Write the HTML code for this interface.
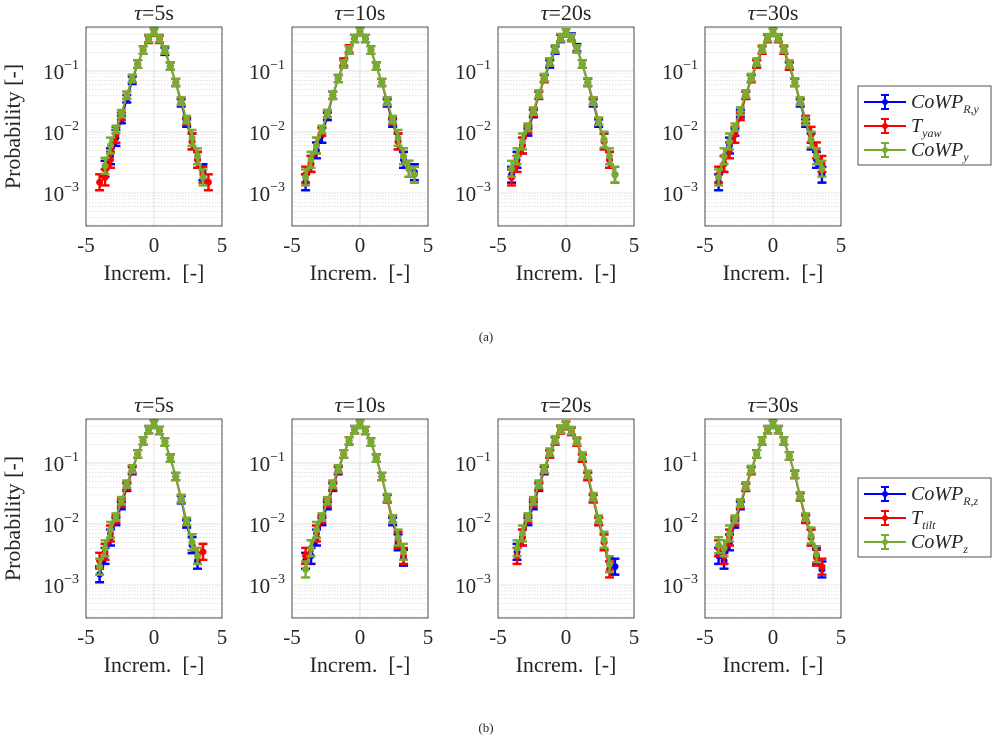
<!DOCTYPE html>
<html><head><meta charset="utf-8">
<style>
body{margin:0;background:#fff;width:1004px;height:737px;overflow:hidden}
svg{display:block}
text{font-family:"Liberation Serif","DejaVu Serif",serif;fill:#262626}
</style></head>
<body>
<svg id="chart" width="1004" height="737" viewBox="0 0 1004 737" xmlns="http://www.w3.org/2000/svg"></svg>
<script>
const xBins=[-4.0,-3.6,-3.2,-2.8,-2.4,-2.0,-1.6,-1.2,-0.8,-0.4,0,0.4,0.8,1.2,1.6,2.0,2.4,2.8,3.2,3.6,4.0];
const panelTitles=["5s","10s","20s","30s"];
const xTicks=[-5,0,5];
const yTickExps=[-1,-2,-3];
// row a (yaw)
const a5Blue=[null,0.0025,0.004,0.008,0.016,0.035,0.07,0.13,0.22,0.34,0.44,0.34,0.21,0.12,0.065,0.03,0.014,0.007,0.0035,0.0022,null];
const a5Red=[0.0015,0.0018,0.0035,0.009,0.018,0.04,0.075,0.13,0.22,0.33,0.43,0.33,0.22,0.12,0.065,0.032,0.015,0.007,0.0035,0.002,0.0015];
const a5Green=[null,0.0028,0.006,0.011,0.02,0.04,0.075,0.13,0.22,0.34,0.44,0.34,0.22,0.12,0.065,0.032,0.016,0.008,0.004,0.0018,null];
const a10Blue=[0.0015,0.003,0.005,0.009,0.018,0.04,0.075,0.13,0.22,0.34,0.44,0.34,0.22,0.12,0.065,0.03,0.014,0.007,0.0035,0.0025,0.0022];
const a10Red=[0.002,0.003,0.006,0.01,0.02,0.04,0.075,0.14,0.23,0.34,0.44,0.34,0.22,0.12,0.065,0.032,0.015,0.007,0.004,0.0025,0.002];
const a10Green=[0.0018,0.0035,0.006,0.011,0.02,0.04,0.075,0.13,0.22,0.34,0.44,0.34,0.22,0.12,0.065,0.032,0.016,0.008,0.004,0.0025,0.002];
const a20Blue=[0.002,0.0035,0.006,0.01,0.02,0.04,0.075,0.13,0.22,0.34,0.42,0.36,0.24,0.13,0.065,0.03,0.014,0.007,0.0035,0.002,null];
const a20Red=[0.0018,0.003,0.006,0.011,0.021,0.04,0.075,0.14,0.23,0.35,0.42,0.35,0.23,0.13,0.065,0.032,0.015,0.007,0.0035,0.002,null];
const a20Green=[0.0025,0.004,0.007,0.012,0.022,0.042,0.078,0.14,0.23,0.35,0.42,0.35,0.23,0.13,0.066,0.032,0.015,0.0075,0.004,0.002,null];
const a30Blue=[0.0015,0.003,0.006,0.01,0.02,0.04,0.075,0.13,0.22,0.34,0.43,0.34,0.22,0.12,0.065,0.03,0.014,0.007,0.0035,0.002,null];
const a30Red=[0.002,0.003,0.005,0.009,0.018,0.04,0.075,0.13,0.22,0.34,0.43,0.34,0.22,0.12,0.065,0.032,0.016,0.009,0.005,0.003,null];
const a30Green=[0.0018,0.004,0.007,0.012,0.022,0.042,0.078,0.14,0.23,0.35,0.43,0.35,0.23,0.13,0.066,0.032,0.015,0.0075,0.004,0.0025,null];
// row b (tilt)
const b5Blue=[0.0015,0.003,0.006,0.011,0.02,0.04,0.075,0.14,0.23,0.35,0.43,0.34,0.22,0.12,0.06,0.025,0.01,0.0045,0.0025,null,null];
const b5Red=[0.0025,0.0035,0.007,0.012,0.022,0.042,0.078,0.14,0.23,0.35,0.43,0.34,0.22,0.12,0.06,0.026,0.011,0.005,0.003,0.0035,null];
const b5Green=[0.002,0.004,0.008,0.013,0.024,0.045,0.08,0.14,0.23,0.35,0.43,0.34,0.22,0.12,0.06,0.026,0.011,0.005,0.003,null,null];
const b10Blue=[0.0025,0.003,0.006,0.011,0.02,0.04,0.075,0.14,0.23,0.35,0.43,0.34,0.22,0.12,0.06,0.026,0.011,0.005,0.0028,null,null];
const b10Red=[0.003,0.004,0.007,0.012,0.022,0.042,0.078,0.14,0.23,0.35,0.43,0.34,0.22,0.12,0.06,0.026,0.012,0.0055,0.003,null,null];
const b10Green=[0.0018,0.004,0.008,0.013,0.024,0.045,0.08,0.14,0.23,0.35,0.43,0.34,0.22,0.12,0.06,0.027,0.012,0.006,0.0035,null,null];
const b20Blue=[null,0.0035,0.006,0.011,0.02,0.04,0.075,0.14,0.23,0.35,0.41,0.33,0.22,0.12,0.06,0.026,0.011,0.005,0.0022,0.002,null];
const b20Red=[null,0.003,0.006,0.012,0.022,0.042,0.078,0.14,0.23,0.35,0.41,0.33,0.22,0.12,0.06,0.026,0.011,0.005,0.0018,null,null];
const b20Green=[null,0.004,0.007,0.013,0.024,0.045,0.08,0.15,0.24,0.36,0.42,0.34,0.23,0.13,0.065,0.028,0.012,0.0055,0.0022,null,null];
const b30Blue=[0.003,0.0025,0.005,0.01,0.02,0.04,0.075,0.14,0.23,0.35,0.43,0.35,0.23,0.13,0.065,0.028,0.012,0.006,0.003,0.0018,null];
const b30Red=[0.004,0.003,0.006,0.011,0.021,0.04,0.075,0.14,0.23,0.35,0.43,0.35,0.23,0.13,0.065,0.028,0.012,0.006,0.0028,0.002,null];
const b30Green=[0.0045,0.004,0.007,0.012,0.022,0.042,0.078,0.14,0.23,0.35,0.43,0.35,0.23,0.13,0.066,0.029,0.013,0.0065,0.0032,null,null];

const rowA=[[a5Blue,a5Red,a5Green],[a10Blue,a10Red,a10Green],[a20Blue,a20Red,a20Green],[a30Blue,a30Red,a30Green]];
const rowB=[[b5Blue,b5Red,b5Green],[b10Blue,b10Red,b10Green],[b20Blue,b20Red,b20Green],[b30Blue,b30Red,b30Green]];
const colors=["#0000ff","#ff0000","#77ac30"];

const NS="http://www.w3.org/2000/svg";
const svg=document.getElementById('chart');
function mk(tag,attrs,parent){const e=document.createElementNS(NS,tag);for(const k in attrs)e.setAttribute(k,attrs[k]);(parent||svg).appendChild(e);return e;}

const panelLefts=[86,292,498,705];
const PW=136;
const LOGTOP=-0.28, LOGBOT=-3.54;

function drawPanel(px,top,bottom,data,title,showYLabel,rowKey,pi){
  const g=mk('g',{});
  
  
  const xS=v=>px+(v+5)/10*PW;
  const yS=v=>top+(LOGTOP-Math.log10(v))/(LOGTOP-LOGBOT)*(bottom-top);
  for(let d=-4;d<=0;d++){for(let m=2;m<=9;m++){const v=m*Math.pow(10,d);const lv=Math.log10(v);if(lv>LOGTOP||lv<LOGBOT)continue;const y=yS(v);
    const l=mk('line',{x1:px,x2:px+PW,y1:y,y2:y,stroke:'#d0d0d0','stroke-width':0.6,'stroke-dasharray':'1.5,1.5'},g);
    }}
  yTickExps.forEach(e=>{const y=yS(Math.pow(10,e));
    const l=mk('line',{x1:px,x2:px+PW,y1:y,y2:y,stroke:'#dcdcdc','stroke-width':0.8},g);
    
    const t=mk('text',{x:px-7,y:y+8,'font-size':21,'text-anchor':'end'},g);
    
    t.textContent='10';const s=mk('tspan',{dy:-10,'font-size':14},t);s.textContent='\u2212'+(-e);
  });
  xTicks.forEach(v=>{const x=xS(v);
    const l=mk('line',{x1:x,x2:x,y1:top,y2:bottom,stroke:'#dcdcdc','stroke-width':0.8},g);
    
    const t=mk('text',{x:x,y:bottom+26,'font-size':21,'text-anchor':'middle'},g);
    
    t.textContent=v<0?'-'+(-v):String(v);
  });
  const names=['blue','red','green'];
  data.forEach((ser,si)=>{
    const c=colors[si];
    let pts=[];
    ser.forEach((v,i)=>{if(v==null)return;pts.push(xS(xBins[i])+','+yS(v));});
    const pl=mk('polyline',{points:pts.join(' '),fill:'none',stroke:c,'stroke-width':2},g);
    
    ser.forEach((v,i)=>{if(v==null)return;
      const x=xS(xBins[i]);const y=yS(v);const f=v<0.01?1.35:1.15;
      const y1=yS(v*f),y2=yS(v/f);
      const eb=mk('path',{d:`M${x},${y1}V${y2}M${x-4.5},${y1}H${x+4.5}M${x-4.5},${y2}H${x+4.5}`,stroke:c,'stroke-width':2.4,fill:'none'},g);
      
      const m=mk('circle',{cx:x,cy:y,r:3.5,fill:c},g);
      
    });
  });
  const box=mk('rect',{x:px,y:top,width:PW,height:bottom-top,fill:'none',stroke:'#262626','stroke-width':0.8},g);
  
  const tt=mk('text',{x:px+PW/2,y:top-7,'font-size':22,'text-anchor':'middle'},g);
  
  const ti=mk('tspan',{'font-style':'italic'},tt);ti.textContent='\u03c4';
  const tr=mk('tspan',{},tt);tr.textContent='='+title;
  const xl=mk('text',{x:px+PW/2,y:bottom+54,'font-size':22,'text-anchor':'middle','xml:space':'preserve'},g);
  
  xl.textContent='Increm.\u2002[-]';
  if(showYLabel){
    const yl=mk('text',{x:0,y:0,'font-size':22,'text-anchor':'middle',transform:`translate(20,${(top+bottom)/2}) rotate(-90)`},g);
    
    yl.textContent='Probability [-]';
  }
}
rowA.forEach((d,i)=>drawPanel(panelLefts[i],27,226,d,panelTitles[i],i===0,'a',i));
rowB.forEach((d,i)=>drawPanel(panelLefts[i],419,618,d,panelTitles[i],i===0,'b',i));

function legend(y0,labels,key){
  const g=mk('g',{});
  
  const r=mk('rect',{x:858,y:y0,width:133,height:79,fill:'#fff',stroke:'#262626','stroke-width':0.8},g);
  
  labels.forEach((lb,i)=>{
    const y=y0+16+i*24;
    const e=mk('g',{},g);
    
    mk('path',{d:`M864,${y}H906M885,${y-7}V${y+7}M881,${y-7}H889M881,${y+7}H889`,stroke:colors[i],'stroke-width':2,fill:'none'},e);
    mk('circle',{cx:885,cy:y,r:3,fill:colors[i]},e);
    const t=mk('text',{x:911,y:y+6,'font-size':20,'font-style':'italic'},e);
    const a=mk('tspan',{},t);a.textContent=lb[0];
    const b=mk('tspan',{'font-size':12,dy:5},t);b.textContent=lb[1];
  });
}
legend(86,[['CoWP','R,y'],['T','yaw'],['CoWP','y']],'a');
legend(478,[['CoWP','R,z'],['T','tilt'],['CoWP','z']],'b');

const ca=mk('text',{x:486,y:341,'font-size':13,'text-anchor':'middle'});
ca.textContent='(a)';
const cb=mk('text',{x:486,y:732,'font-size':13,'text-anchor':'middle'});
cb.textContent='(b)';
</script>
</body></html>
